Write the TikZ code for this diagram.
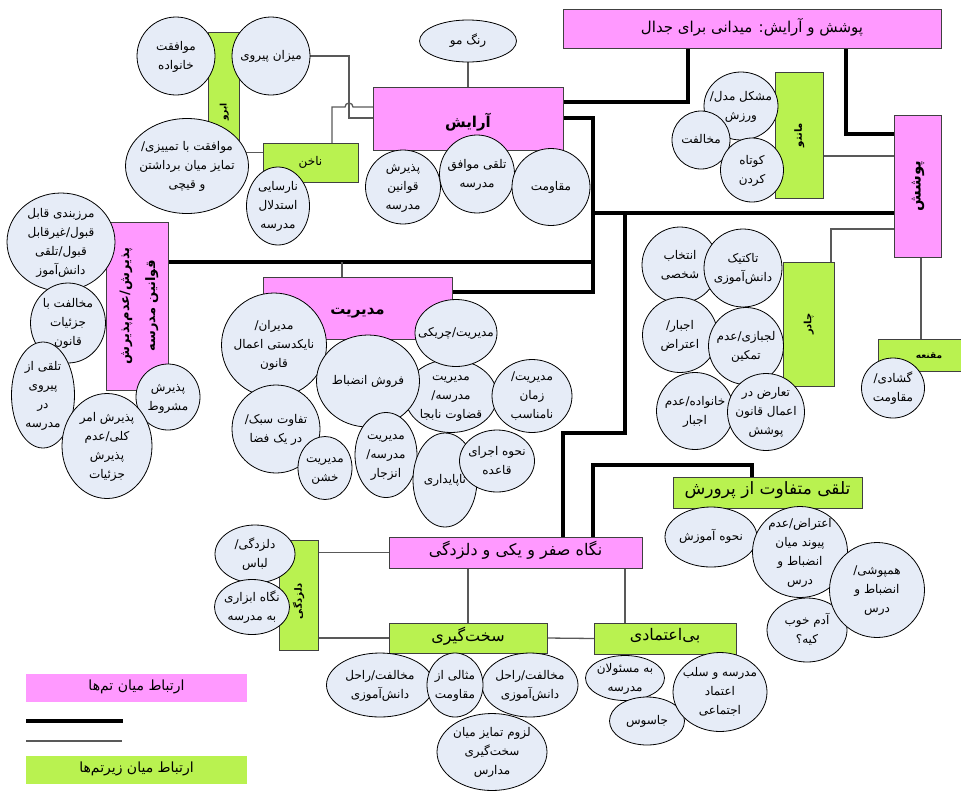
\documentclass[tikz,border=0pt]{standalone}
\usepackage{fontspec}
\usepackage{graphicx}
\usetikzlibrary{shapes, backgrounds}
\newfontfamily\farsi[Script=Arabic]{DejaVu Sans}
\TeXXeTstate=1
\definecolor{themepink}{RGB}{255,153,255}
\definecolor{subgreen}{RGB}{185,242,80}
\definecolor{bubblefill}{RGB}{230,236,247}
\newcommand{\zw}{^^^^200c}
\newcommand{\bub}[1]{\raisebox{-3pt}[0pt][0pt]{\makebox[0pt]{\begin{tabular}{@{}c@{}}#1\end{tabular}}}}
\newcommand{\vbub}[1]{\rotatebox{90}{\bub{#1}}}
\tikzstyle{theme} = [rectangle, draw=black!75, line width=0.8pt, fill=themepink, inner sep=0pt, outer sep=0pt, font=\farsi\fontsize{15}{18}\selectfont]
\tikzstyle{subtheme} = [rectangle, draw=black!75, line width=0.8pt, fill=subgreen, inner sep=0pt, outer sep=0pt, font=\farsi\fontsize{16}{18}\selectfont]
\tikzstyle{bubble} = [ellipse, draw=black, line width=0.8pt, fill=bubblefill, inner sep=0pt, outer sep=0pt, font=\farsi\fontsize{12}{19}\selectfont]
\tikzstyle{legendbox} = [rectangle, inner sep=0pt, minimum width=221, minimum height=28, font=\farsi\fontsize{14}{16}\selectfont]
\tikzstyle{major} = [line width=4pt, black]
\tikzstyle{minor} = [line width=1.3pt, black!65]

\begin{document}
\begin{tikzpicture}[x=1pt, y=-1pt]
    \useasboundingbox (0,0) rectangle (961,793);

    \node (title) [theme, minimum width=378, minimum height=39] at (752,28.5) {\bub{\beginR پوشش و آرایش: میدانی برای جدال\endR}};
    \node (arayesh) [theme, minimum width=190, minimum height=63, font=\farsi\bfseries\fontsize{15}{18}\selectfont] at (468,118.5) {\raisebox{-5pt}[0pt][0pt]{\bub{\beginR آرایش\endR}}};
    \node (modiriat) [theme, minimum width=189, minimum height=62, font=\farsi\bfseries\fontsize{15}{18}\selectfont] at (357.5,308) {\raisebox{-3pt}[0pt][0pt]{\bub{\beginR مدیریت\endR}}};
    \node (poshesh) [theme, minimum width=47, minimum height=142, font=\farsi\bfseries\fontsize{15}{18}\selectfont] at (917.5,186) {\vbub{\beginR پوشش\endR}};
    \node (paziresh) [theme, minimum width=62, minimum height=168, font=\farsi\bfseries\fontsize{13}{26}\selectfont] at (137,306) {\vbub{\beginR پذیرش/عدم\zw پذیرش\endR\\\beginR قوانین مدرسه\endR}};
    \node (negah) [theme, minimum width=253, minimum height=31, font=\farsi\fontsize{16}{18}\selectfont] at (515.5,552.5) {\bub{\beginR نگاه صفر و یکی و دلزدگی\endR}};

    \node (abru) [subtheme, minimum width=31, minimum height=108, font=\farsi\bfseries\fontsize{9}{12}\selectfont] at (223.5,86) {\raisebox{-26pt}[0pt][0pt]{\vbub{\beginR ابرو\endR}}};
    \node (nakhon) [subtheme, minimum width=95, minimum height=39, font=\farsi\fontsize{12}{14}\selectfont] at (310.5,162.5) {\bub{\beginR ناخن\endR}};
    \node (manto) [subtheme, minimum width=48, minimum height=126, font=\farsi\bfseries\fontsize{10}{12}\selectfont] at (799,135) {\vbub{\beginR مانتو\endR}};
    \node (chador) [subtheme, minimum width=51, minimum height=124, font=\farsi\bfseries\fontsize{10}{12}\selectfont] at (808.5,324) {\vbub{\beginR چادر\endR}};
    \node (maghnae) [subtheme, minimum width=86, minimum height=32, font=\farsi\bfseries\fontsize{9}{12}\selectfont] at (921,355) {\hspace{16pt}\bub{\beginR مقنعه\endR}};
    \node (talaghi) [subtheme, minimum width=189, minimum height=31, font=\farsi\fontsize{17}{18}\selectfont] at (767.5,492.5) {\bub{\beginR تلقی متفاوت از پرورش\endR}};
    \node (sakhtgiri) [subtheme, minimum width=158, minimum height=30] at (468,638) {\bub{\beginR سخت\zw گیری\endR}};
    \node (biatemadi) [subtheme, minimum width=142, minimum height=31] at (665,638.5) {\bub{\beginR بی\zw اعتمادی\endR}};
    \node (delzadegi) [subtheme, minimum width=39, minimum height=110, font=\farsi\bfseries\fontsize{10}{14}\selectfont] at (298.5,595) {\raisebox{-6pt}[0pt][0pt]{\vbub{\beginR دلزدگی\endR}}};

    \node (rangmo) [bubble, minimum width=97, minimum height=42] at (468,41) {\bub{\beginR رنگ مو\endR}};
    \node (pazghav) [bubble, minimum width=75, minimum height=74] at (403,187) {\bub{\beginR پذیرش\endR\\\beginR قوانین\endR\\\beginR مدرسه\endR}};
    \node (movafegh) [bubble, minimum width=75, minimum height=78] at (477,174) {\bub{\beginR تلقی موافق\endR\\\beginR مدرسه\endR}};
    \node (moghavemat) [bubble, minimum width=78, minimum height=77] at (551,187) {\bub{\beginR مقاومت\endR}};
    \node (khanevade) [bubble, minimum width=78, minimum height=78] at (176,56) {\bub{\beginR موافقت\endR\\\beginR خانواده\endR}};
    \node (mizan) [bubble, minimum width=78, minimum height=78] at (271,56) {\bub{\beginR میزان پیروی\endR}};
    \node (tamyiz) [bubble, minimum width=123, minimum height=95] at (187,166) {\bub{\beginR موافقت با تمییزی/\endR\\\beginR تمایز میان برداشتن\endR\\\beginR و قیچی\endR}};
    \node (narasayi) [bubble, minimum width=63, minimum height=78] at (278,206) {\bub{\beginR نارسایی\endR\\\beginR استدلال\endR\\\beginR مدرسه\endR}};

    \node (marzbandi) [bubble, minimum width=108, minimum height=98] at (61,242) {\bub{\beginR مرزبندی قابل\endR\\\beginR قبول/غیرقابل\endR\\\beginR قبول/تلقی\endR\\\beginR دانش\zw آموز\endR}};
    \node (joziyat) [bubble, minimum width=75, minimum height=80] at (68,323) {\bub{\beginR مخالفت با\endR\\\beginR جزئیات\endR\\\beginR قانون\endR}};
    \node (peyravi) [bubble, minimum width=63, minimum height=106] at (43,395) {\bub{\beginR تلقی از\endR\\\beginR پیروی\endR\\\beginR در\endR\\\beginR مدرسه\endR}};
    \node (mashrut) [bubble, minimum width=64, minimum height=66] at (168,397) {\bub{\beginR پذیرش\endR\\\beginR مشروط\endR}};
    \node (amrkoli) [bubble, minimum width=90, minimum height=105] at (107,446) {\bub{\beginR پذیرش امر\endR\\\beginR کلی/عدم\endR\\\beginR پذیرش\endR\\\beginR جزئیات\endR}};

    \node (modiran) [bubble, minimum width=105, minimum height=104] at (274,345) {\bub{\beginR مدیران/\endR\\\beginR نایکدستی اعمال\endR\\\beginR قانون\endR}};
    \node (sabk) [bubble, minimum width=88, minimum height=88] at (276,429) {\bub{\beginR تفاوت سبک/\endR\\\beginR در یک فضا\endR}};
    \node (ghezavat) [bubble, minimum width=92, minimum height=73] at (451,396) {\bub{\beginR مدیریت\endR\\\beginR مدرسه/\endR\\\beginR قضاوت نابجا\endR}};
    \node (cheriki) [bubble, minimum width=82, minimum height=67] at (456,333) {\bub{\beginR مدیریت/چریکی\endR}};
    \node (forush) [bubble, minimum width=103, minimum height=92] at (368,381) {\bub{\beginR فروش انضباط\endR}};
    \node (zaman) [bubble, minimum width=80, minimum height=73] at (532,396) {\bub{\beginR مدیریت/\endR\\\beginR زمان\endR\\\beginR نامناسب\endR}};
    \node (khashen) [bubble, minimum width=54, minimum height=63] at (325,468) {\bub{\beginR مدیریت\endR\\\beginR خشن\endR}};
    \node (enzejar) [bubble, minimum width=62, minimum height=85] at (386,455) {\bub{\beginR مدیریت\endR\\\beginR مدرسه/\endR\\\beginR انزجار\endR}};
    \node (napaydari) [bubble, minimum width=64, minimum height=94] at (445,480) {\bub{\beginR ناپایداری\endR}};
    \node (ejra) [bubble, minimum width=75, minimum height=62] at (497,461) {\bub{\beginR نحوه اجرای\endR\\\beginR قاعده\endR}};

    \node (moshkel) [bubble, minimum width=74, minimum height=68] at (741,106) {\bub{\beginR مشکل مدل/\endR\\\beginR ورزش\endR}};
    \node (mokhalefat) [bubble, minimum width=58, minimum height=58] at (701,140) {\bub{\beginR مخالفت\endR}};
    \node (kutah) [bubble, minimum width=63, minimum height=64] at (752,170) {\bub{\beginR کوتاه\endR\\\beginR کردن\endR}};

    \node (entekhab) [bubble, minimum width=76, minimum height=76] at (680,265) {\bub{\beginR انتخاب\endR\\\beginR شخصی\endR}};
    \node (taktik) [bubble, minimum width=78, minimum height=78] at (743,268) {\bub{\beginR تاکتیک\endR\\\beginR دانش\zw آموزی\endR}};
    \node (ejbar) [bubble, minimum width=75, minimum height=75] at (680,335) {\bub{\beginR اجبار/\endR\\\beginR اعتراض\endR}};
    \node (lajbazi) [bubble, minimum width=75, minimum height=77] at (746,346) {\bub{\beginR لجبازی/عدم\endR\\\beginR تمکین\endR}};
    \node (khanejbar) [bubble, minimum width=77, minimum height=77] at (695,411) {\bub{\beginR خانواده/عدم\endR\\\beginR اجبار\endR}};
    \node (taaroz) [bubble, minimum width=77, minimum height=77] at (766,412) {\bub{\beginR تعارض در\endR\\\beginR اعمال قانون\endR\\\beginR پوشش\endR}};
    \node (goshadi) [bubble, minimum width=63, minimum height=60] at (893,388) {\bub{\beginR گشادی/\endR\\\beginR مقاومت\endR}};

    \node (amuzesh) [bubble, minimum width=92, minimum height=60] at (711,537) {\bub{\beginR نحوه آموزش\endR}};
    \node (peyvand) [bubble, minimum width=95, minimum height=91] at (800,552) {\bub{\beginR اعتراض/عدم\endR\\\beginR پیوند میان\endR\\\beginR انضباط و\endR\\\beginR درس\endR}};
    \node (adamkhub) [bubble, minimum width=80, minimum height=64] at (807,630) {\bub{\beginR آدم خوب\endR\\\beginR کیه؟\endR}};
    \node (hampushi) [bubble, minimum width=95, minimum height=95] at (877,590) {\bub{\beginR همپوشی/\endR\\\beginR انضباط و\endR\\\beginR درس\endR}};

    \node (lebas) [bubble, minimum width=80, minimum height=58] at (255,554) {\bub{\beginR دلزدگی/\endR\\\beginR لباس\endR}};
    \node (abzari) [bubble, minimum width=75, minimum height=55] at (252,607) {\bub{\beginR نگاه ابزاری\endR\\\beginR به مدرسه\endR}};

    \node (rahalleft) [bubble, minimum width=107, minimum height=64] at (380,685) {\bub{\beginR مخالفت/راحل\endR\\\beginR دانش\zw آموزی\endR}};
    \node (rahalright) [bubble, minimum width=96, minimum height=64] at (530,685) {\bub{\beginR مخالفت/راحل\endR\\\beginR دانش\zw آموزی\endR}};
    \node (mesal) [bubble, minimum width=56, minimum height=64] at (455,685) {\bub{\beginR مثالی از\endR\\\beginR مقاومت\endR}};
    \node (lozum) [bubble, minimum width=110, minimum height=77] at (492,752) {\bub{\beginR لزوم تمایز میان\endR\\\beginR سخت\zw گیری\endR\\\beginR مدارس\endR}};

    \node (masulan) [bubble, minimum width=79, minimum height=45] at (625,678) {\bub{\beginR به مسئولان\endR\\\beginR مدرسه\endR}};
    \node (jasus) [bubble, minimum width=75, minimum height=48] at (647,721) {\bub{\beginR جاسوس\endR}};
    \node (salb) [bubble, minimum width=94, minimum height=79] at (720,692) {\bub{\beginR مدرسه و سلب\endR\\\beginR اعتماد\endR\\\beginR اجتماعی\endR}};

    \node (legtheme) [legendbox, fill=themepink] at (136.5,688) {\bub{\beginR ارتباط میان تم\zw ها\endR}};
    \node (legsub) [legendbox, fill=subgreen] at (136.5,769.5) {\bub{\beginR ارتباط میان زیرتم\zw ها\endR}};

    \coordinate (t1) at (688,102);
    \coordinate (t2) at (846,134);
    \coordinate (j1) at (593,118);
    \coordinate (j2) at (593,292);
    \coordinate (j3) at (593,262);
    \coordinate (j4) at (593,213);
    \coordinate (j5) at (625,213);
    \coordinate (j6) at (625,433);
    \coordinate (j7) at (563,433);
    \coordinate (j8) at (752,465);
    \coordinate (j9) at (593,465);
    \coordinate (k1) at (349,56);
    \coordinate (k2) at (349,118);
    \coordinate (k3) at (332,107);
    \coordinate (k4) at (345,107);
    \coordinate (k5) at (342,262);
    \coordinate (m1) at (858,156);
    \coordinate (c1) at (831,229);
    \coordinate (n1) at (625,600);
    \coordinate (la) at (26,721);
    \coordinate (lb) at (123,721);
    \coordinate (lc) at (26,741);
    \coordinate (ld) at (122,741);

    \begin{pgfonlayer}{background}
    \draw [major] (title.south -| t1) -- (t1) -- (arayesh.east |- t1);
    \draw [major] (title.south -| t2) -- (t2) -- (poshesh.west |- t2);
    \draw [major] (arayesh.east |- j1) -- (j1) -- (j2) -- (modiriat.east |- j2);
    \draw [major] (paziresh.east |- j3) -- (j3);
    \draw [major] (j4) -- (poshesh.west |- j4);
    \draw [major] (j5) -- (j6) -- (j7) -- (negah.north -| j7);
    \draw [major] (talaghi.north -| j8) -- (j8) -- (j9) -- (negah.north -| j9);

    \draw [minor] (rangmo.south) -- (arayesh.north);
    \draw [minor] (mizan.east) -- (k1) -- (k2) -- (arayesh.west |- k2);
    \draw [minor] (nakhon.north -| k3) -- (k3) -- (k4) arc (180:0:4pt) -- (arayesh.west |- k3);
    \draw [minor] (tamyiz.13) -- (tamyiz.13 -| nakhon.west);
    \draw [minor] (modiriat.north -| k5) -- (k5);
    \draw [minor] (manto.east |- m1) -- (poshesh.west |- m1);
    \draw [minor] (poshesh.west |- c1) -- (c1) -- (chador.north -| c1);
    \draw [minor] (poshesh.south -| maghnae.north) -- (maghnae.north);
    \draw [minor] (negah.west) -- (negah.west -| delzadegi.east);
    \draw [minor] (negah.south -| sakhtgiri.north) -- (sakhtgiri.north);
    \draw [minor] (negah.south -| n1) -- (biatemadi.north -| n1);
    \draw [minor] (sakhtgiri.west) -- (sakhtgiri.west -| delzadegi.east);
    \draw [minor] (sakhtgiri.east) -- (biatemadi.west);
    \end{pgfonlayer}

    \draw [major] (la) -- (lb);
    \draw [minor] (lc) -- (ld);
\end{tikzpicture}
\end{document}
